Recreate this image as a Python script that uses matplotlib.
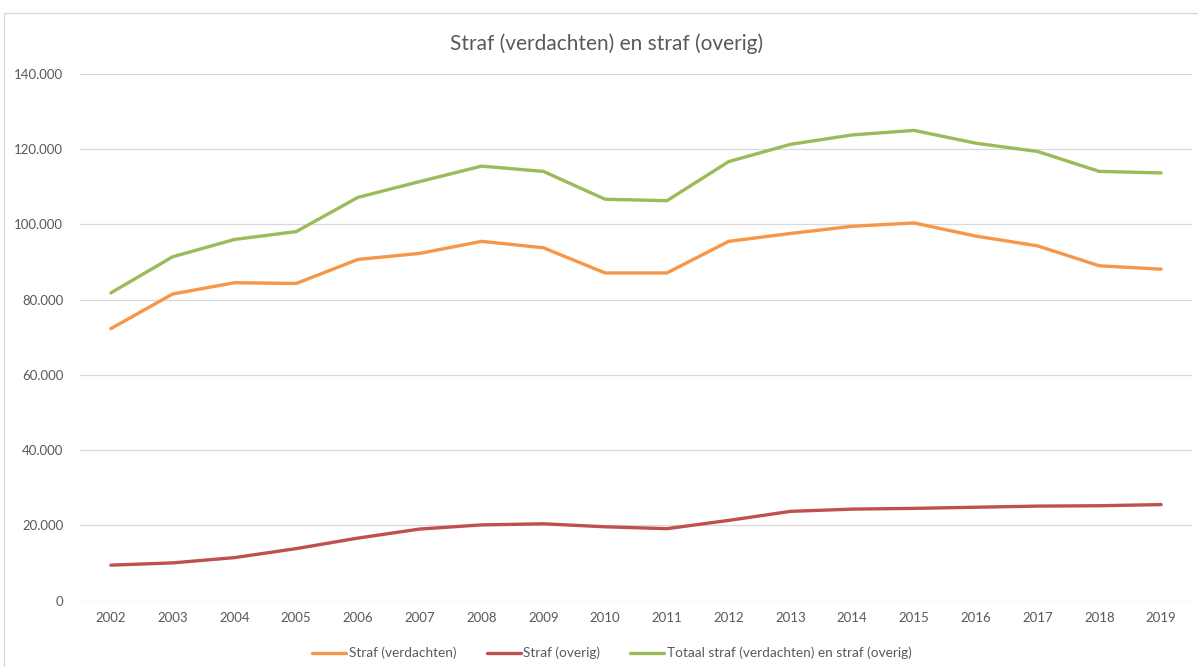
import matplotlib
matplotlib.use("Agg")
import matplotlib.pyplot as plt
from matplotlib.patches import Rectangle
from matplotlib.ticker import FuncFormatter, MultipleLocator

years = [str(y) for y in range(2002, 2020)]
straf_verdachten = [72300, 81500, 84500, 84300, 90700, 92300, 95500, 93800, 87100, 87100,
                    95500, 97600, 99500, 100400, 96900, 94300, 89000, 88100]
straf_overig = [9400, 10000, 11400, 13800, 16600, 19000, 20100, 20400, 19600, 19100,
                21300, 23700, 24300, 24500, 24800, 25100, 25200, 25500]
totaal = [81800, 91400, 96000, 98100, 107200, 111400, 115500, 114100, 106700, 106300,
          116700, 121300, 123800, 125000, 121600, 119400, 114100, 113700]

series_labels = ["Straf (verdachten)", "Straf (overig)",
                 "Totaal straf (verdachten) en straf (overig)"]
colors = ["#F79646", "#C0504D", "#9BBB59"]

plt.rcParams['font.family'] = ['Lato', 'DejaVu Sans']

fig = plt.figure(figsize=(11.98, 6.67), dpi=100)
fig.patches.append(Rectangle((4 / 1198, -0.01), 1.2, 1 - 13 / 667 + 0.01,
                             transform=fig.transFigure, fill=False,
                             edgecolor="#D9D9D9", linewidth=1))
ax = fig.add_axes([80 / 1198, 1 - 600.5 / 667, (1192 - 80) / 1198, (600.5 - 74) / 667])

x = list(range(len(years)))
for vals, lab, c in zip([straf_verdachten, straf_overig, totaal], series_labels, colors):
    ax.plot(x, vals, color=c, linewidth=2.4, label=lab, solid_capstyle='round',
            solid_joinstyle='round')

ax.set_xlim(-0.5, len(years) - 0.5)
ax.set_ylim(0, 140000)
ax.set_xticks(x)
ax.set_xticklabels(years)
ax.yaxis.set_major_locator(MultipleLocator(20000))
ax.yaxis.set_major_formatter(FuncFormatter(lambda v, p: "0" if v == 0 else f"{int(v):,}".replace(",", ".")))
ax.grid(axis='y', color="#D9D9D9", linewidth=0.9)
ax.set_axisbelow(True)
for s in ax.spines.values():
    s.set_visible(False)
ax.tick_params(axis='both', length=0, labelsize=9.5, colors="#595959")
ax.tick_params(axis='y', pad=12)
ax.tick_params(axis='x', pad=8)

fig.text(607 / 1198, 1 - 44 / 667, "Straf (verdachten) en straf (overig)",
         ha='center', va='center', fontsize=15, color="#595959")

fig.legend(loc='center', bbox_to_anchor=(612 / 1198, 1 - 653 / 667), ncol=3,
           frameon=False, fontsize=9.8, handlelength=2.5, handletextpad=0.2,
           columnspacing=2.2, labelcolor="#595959")

fig.savefig("out.png", dpi=100)
